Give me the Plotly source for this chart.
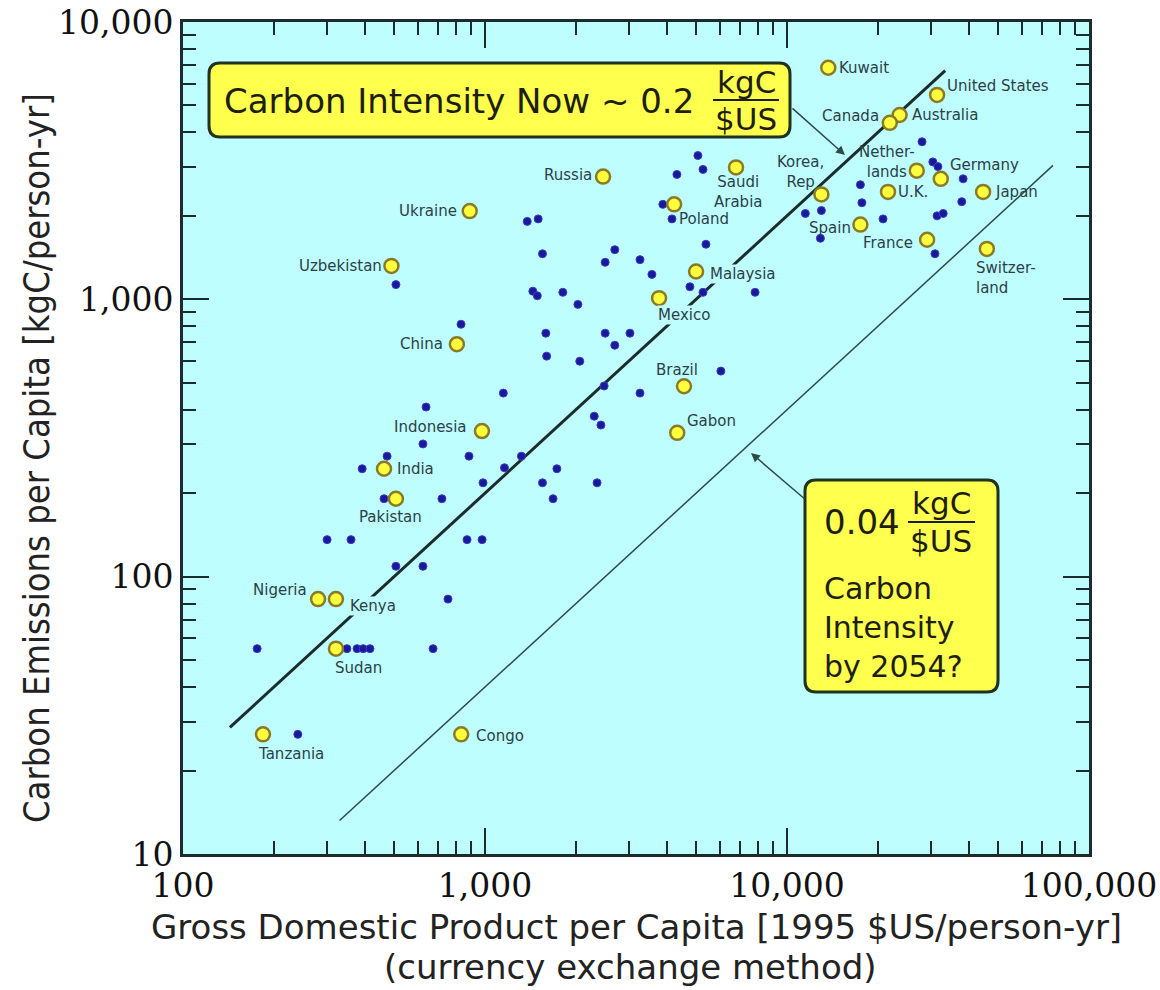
import math
import plotly.graph_objects as go

# ---------------- data ----------------
labeled_countries = ["Kuwait", "United States", "Australia", "Canada", "Netherlands", "Germany",
                     "Japan", "U.K.", "Korea, Rep", "Spain", "France", "Switzerland",
                     "Saudi Arabia", "Russia", "Poland", "Ukraine", "Uzbekistan", "Malaysia",
                     "Mexico", "China", "Brazil", "Gabon", "Indonesia", "India", "Pakistan",
                     "Nigeria", "Kenya", "Sudan", "Tanzania", "Congo"]
labeled_gdp = [13700, 31400, 23600, 21900, 26900, 32300,
               44600, 21600, 13000, 17500, 29100, 45900,
               6780, 2460, 4230, 890, 490, 5000,
               3770, 807, 4560, 4330, 977, 463, 507,
               280, 321, 321, 184, 834]
labeled_carbon = [6840, 5460, 4620, 4330, 2910, 2720,
                  2440, 2440, 2390, 1860, 1640, 1520,
                  2990, 2770, 2200, 2080, 1320, 1260,
                  1010, 689, 486, 330, 335, 245, 191,
                  83, 83, 55, 27, 27]
label_text = {"Netherlands": "Nether-<br>lands", "Korea, Rep": "Korea,<br>Rep",
              "Switzerland": "Switzer-<br>land", "Saudi Arabia": "Saudi<br>Arabia"}

other_gdp = [28000, 30400, 31600, 38300, 17500, 17700, 20800, 31400, 32900, 37900, 11500, 13000, 12900, 30900,
             5070, 5270, 4320, 3880, 4160, 1380, 1500, 5390, 1550, 2690, 2500, 3260, 3570, 4770, 5270, 7840,
             1440, 1490, 1810, 2030, 1590, 2500, 3020, 2690, 1600, 2060, 6040, 1150, 2480, 3260, 2300, 2420,
             1320, 1160, 1730, 985, 1550, 2350, 1680,
             507, 833, 638, 623, 474, 885, 392, 463, 720, 300, 360, 872, 978, 507, 623, 754,
             176, 349, 377, 395, 416, 673, 240]
other_carbon = [3700, 3130, 3010, 2720, 2590, 2230, 1950, 2000, 2040, 2250, 2040, 2090, 1660, 1460,
                3300, 2940, 2820, 2200, 1950, 1910, 1950, 1580, 1460, 1510, 1360, 1390, 1230, 1110, 1060, 1060,
                1070, 1030, 1060, 959, 755, 755, 755, 683, 624, 598, 551, 459, 487, 459, 379, 352,
                272, 247, 245, 218, 218, 218, 191,
                1130, 813, 409, 301, 272, 272, 245, 191, 191, 136, 136, 136, 136, 109, 109, 83,
                55, 55, 55, 55, 55, 55, 27]

now_line_gdp = [143, 33400]
now_line_carbon = [28.6, 6680]
future_line_gdp = [330, 76000]
future_line_carbon = [13.2, 3040]

x_tick_vals = [100, 1000, 10000, 100000]
x_tick_text = ["100", "1,000", "10,000", "100,000"]
y_tick_vals = [10, 100, 1000, 10000]
y_tick_text = ["10", "100", "1,000", "10,000"]

x_title = "Gross Domestic Product per Capita [1995 $US/person-yr]"
x_subtitle = "(currency exchange method)"
y_title = "Carbon Emissions per Capita [kgC/person-yr]"

# ---------------- layout helpers ----------------
W, H = 1160, 990
L, R, T, B = 183, 1089, 22, 854   # plot frame in pixels
BG = "#BEFEFE"
INK = "#1c2b2b"
LABEL_INK = "#2c3e48"
BOX_FILL = "#FFFF4D"


def fx(px):
    return (px - L) / (R - L)


def fy(py):
    return (B - py) / (B - T)


def rounded_rect(x0, y0, x1, y1, r):
    pts = [("M", [(x0 + r, y0)]), ("L", [(x1 - r, y0)]), ("Q", [(x1, y0), (x1, y0 + r)]),
           ("L", [(x1, y1 - r)]), ("Q", [(x1, y1), (x1 - r, y1)]), ("L", [(x0 + r, y1)]),
           ("Q", [(x0, y1), (x0, y1 - r)]), ("L", [(x0, y0 + r)]), ("Q", [(x0, y0), (x0 + r, y0)])]
    s = ""
    for cmd, ps in pts:
        s += cmd + " " + " ".join(f"{fx(a):.5f},{fy(b):.5f}" for a, b in ps) + " "
    return s + "Z"


# label placement: xanchor, xshift, yshift
label_pos = {
    "Kuwait": ("left", 10, 0), "United States": ("left", 9, 9), "Australia": ("left", 11, 0),
    "Canada": ("right", -10, 7), "Netherlands": ("center", -30, 9), "Germany": ("left", 8, 14),
    "Japan": ("left", 11, 0), "U.K.": ("left", 9, 0), "Korea, Rep": ("center", -21, 22),
    "Spain": ("right", -8, -3), "France": ("right", -13, -3), "Switzerland": ("left", -12, -29),
    "Saudi Arabia": ("center", 2, -25), "Russia": ("right", -10, 2), "Poland": ("left", 4, -15),
    "Ukraine": ("right", -12, 0), "Uzbekistan": ("right", -8, 0), "Malaysia": ("left", 13, -2),
    "Mexico": ("left", -2, -17), "China": ("right", -13, 0), "Brazil": ("center", -7, 16),
    "Gabon": ("left", 9, 12), "Indonesia": ("right", -14, 4), "India": ("left", 12, 0),
    "Pakistan": ("center", -5, -18), "Nigeria": ("right", -10, 9), "Kenya": ("left", 13, -7),
    "Sudan": ("center", 23, -19), "Tanzania": ("center", 28, -20), "Congo": ("left", 14, -2),
}
masked_labels = {"Mexico", "Kenya", "Malaysia"}

fig = go.Figure()

fig.add_trace(go.Scatter(x=now_line_gdp, y=now_line_carbon, mode="lines",
                         line=dict(color=INK, width=3), hoverinfo="skip"))
fig.add_trace(go.Scatter(x=future_line_gdp, y=future_line_carbon, mode="lines",
                         line=dict(color="#2d4a4a", width=1.5), hoverinfo="skip"))
fig.add_trace(go.Scatter(x=other_gdp, y=other_carbon, mode="markers",
                         marker=dict(size=8, color="#1a1a96", line=dict(width=1, color="#3a3ad0")),
                         hoverinfo="skip"))
fig.add_trace(go.Scatter(x=labeled_gdp, y=labeled_carbon, mode="markers", text=labeled_countries,
                         marker=dict(size=14, color="#FFFF3C", line=dict(width=2.5, color="#8a7a28"))))

annotations = []
for name, gx, cy in zip(labeled_countries, labeled_gdp, labeled_carbon):
    xa, xs, ys = label_pos[name]
    annotations.append(dict(
        x=math.log10(gx), y=math.log10(cy), xref="x", yref="y", text=label_text.get(name, name),
        showarrow=False, xanchor=xa, yanchor="middle", xshift=xs, yshift=ys,
        align="left" if xa != "center" else "center",
        font=dict(family="DejaVu Sans", size=15, color=LABEL_INK),
        bgcolor=BG if name in masked_labels else "rgba(0,0,0,0)", borderpad=0))

# axis titles
TITLE_FONT = dict(family="DejaVu Sans", size=34, color="#222")
annotations.append(dict(x=fx(636), y=fy(927), xref="paper", yref="paper", text=x_title, showarrow=False,
                        xanchor="center", yanchor="middle", font=TITLE_FONT))
annotations.append(dict(x=fx(630), y=fy(967), xref="paper", yref="paper", text=x_subtitle, showarrow=False,
                        xanchor="center", yanchor="middle", font=TITLE_FONT))
annotations.append(dict(x=fx(36), y=fy(458), xref="paper", yref="paper", text=y_title, showarrow=False,
                        textangle=-90, xanchor="center", yanchor="middle",
                        font=dict(family="DejaVu Sans Condensed, DejaVu Sans", size=36, color="#222")))

# box texts
BOX_FONT = dict(family="DejaVu Sans", size=34, color="#1e1e10")
FRAC_FONT = dict(family="DejaVu Sans", size=31, color="#1e1e10")
annotations.append(dict(x=fx(222), y=fy(101), xref="paper", yref="paper", text="Carbon Intensity Now ~ 0.2",
                        showarrow=False, xanchor="left", yanchor="middle", font=BOX_FONT))
annotations.append(dict(x=fx(746), y=fy(82), xref="paper", yref="paper", text="kgC",
                        showarrow=False, xanchor="center", yanchor="middle", font=FRAC_FONT))
annotations.append(dict(x=fx(746), y=fy(119), xref="paper", yref="paper", text="$US",
                        showarrow=False, xanchor="center", yanchor="middle", font=FRAC_FONT))
annotations.append(dict(x=fx(822), y=fy(522), xref="paper", yref="paper", text="0.04",
                        showarrow=False, xanchor="left", yanchor="middle", font=BOX_FONT))
annotations.append(dict(x=fx(941), y=fy(503), xref="paper", yref="paper", text="kgC",
                        showarrow=False, xanchor="center", yanchor="middle", font=FRAC_FONT))
annotations.append(dict(x=fx(941), y=fy(541), xref="paper", yref="paper", text="$US",
                        showarrow=False, xanchor="center", yanchor="middle", font=FRAC_FONT))
annotations.append(dict(x=fx(822), y=fy(627), xref="paper", yref="paper",
                        text="Carbon<br>Intensity<br>by 2054?", align="left",
                        showarrow=False, xanchor="left", yanchor="middle",
                        font=dict(family="DejaVu Sans", size=30, color="#1e1e10")))

# arrows
annotations.append(dict(x=fx(845), y=fy(155), xref="paper", yref="paper", ax=-54, ay=-48, text="",
                        showarrow=True, arrowhead=2, arrowsize=1.2, arrowwidth=1.5, arrowcolor="#2d4a4a"))
annotations.append(dict(x=fx(751), y=fy(453), xref="paper", yref="paper", ax=55, ay=47, text="",
                        showarrow=True, arrowhead=2, arrowsize=1.2, arrowwidth=1.5, arrowcolor="#2d4a4a"))

shapes = [
    dict(type="path", xref="paper", yref="paper", path=rounded_rect(209, 63, 790, 137, 11),
         fillcolor=BOX_FILL, line=dict(color="#1f3320", width=3), layer="above"),
    dict(type="path", xref="paper", yref="paper", path=rounded_rect(805, 480, 998, 692, 11),
         fillcolor=BOX_FILL, line=dict(color="#1f3320", width=3), layer="above"),
    dict(type="line", xref="paper", yref="paper", x0=fx(713), x1=fx(779), y0=fy(100), y1=fy(100),
         line=dict(color="#1e1e10", width=2), layer="above"),
    dict(type="line", xref="paper", yref="paper", x0=fx(908), x1=fx(975), y0=fy(522), y1=fy(522),
         line=dict(color="#1e1e10", width=2), layer="above"),
]

minor_x = [k * 10 ** n for n in (2, 3, 4) for k in range(2, 10)]
minor_y = [k * 10 ** n for n in (1, 2, 3) for k in range(2, 10)]

axis_common = dict(type="log", showgrid=False, zeroline=False, showline=True, linewidth=3, linecolor=INK,
                   mirror="allticks", ticks="inside", ticklen=26, tickwidth=2, tickcolor=INK,
                   tickfont=dict(family="DejaVu Serif", size=33, color="#111"))

fig.update_layout(
    width=W, height=H,
    margin=dict(l=L, r=W - R, t=T, b=H - B, autoexpand=False),
    paper_bgcolor="white", plot_bgcolor=BG, showlegend=False,
    xaxis=dict(range=[2, 5], tickvals=x_tick_vals, ticktext=x_tick_text,
               minor=dict(tickvals=minor_x, ticks="inside", ticklen=13, tickwidth=2, tickcolor=INK, showgrid=False),
               **axis_common),
    yaxis=dict(range=[1, 4], tickvals=y_tick_vals, ticktext=y_tick_text,
               minor=dict(tickvals=minor_y, ticks="inside", ticklen=13, tickwidth=2, tickcolor=INK, showgrid=False),
               **axis_common),
    annotations=annotations, shapes=shapes,
)

fig.write_html("out.html", config={"displayModeBar": False},
               post_script="document.body.style.margin='0';document.body.style.overflow='hidden';")
